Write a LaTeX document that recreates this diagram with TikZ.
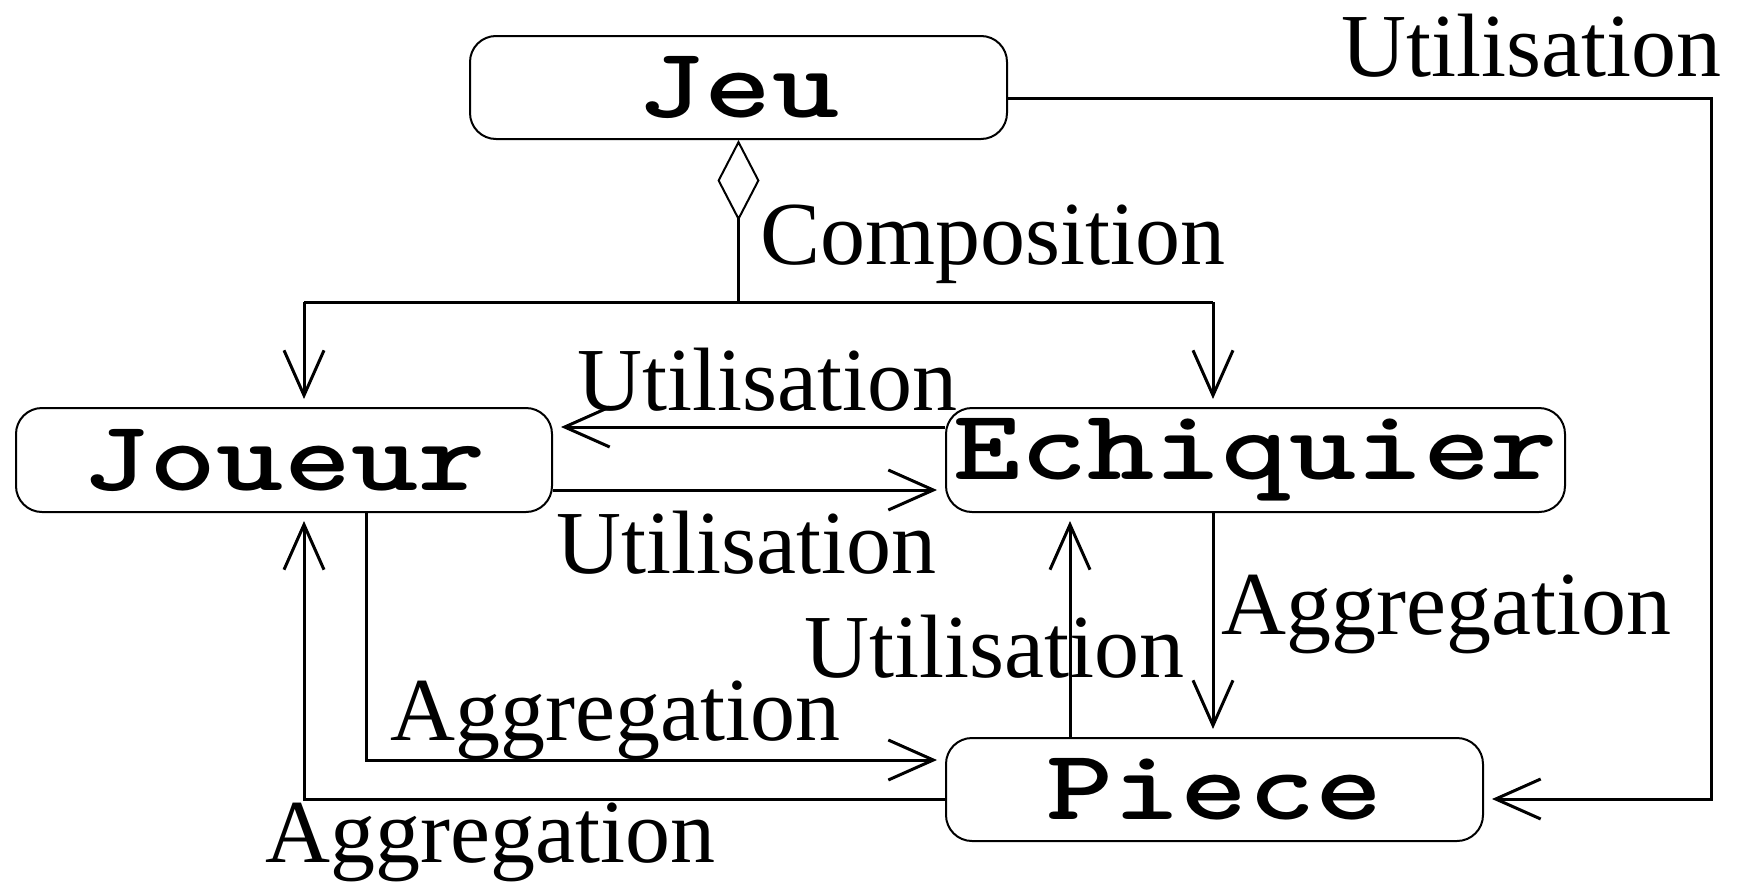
\documentclass[tikz,border=0pt]{standalone}
\usepackage{fontspec}
\usepackage{graphicx}
\setmainfont{Liberation Serif}
\usetikzlibrary{arrows.meta}
\newcommand{\clsname}[1]{\scalebox{1.28}[1]{#1}}
\tikzset{
  cls/.style={draw, line width=2pt, rounded corners=26pt, inner sep=0pt,
    font=\ttfamily\bfseries\fontsize{100}{100}\selectfont\addfontfeatures{FakeBold=6}},
  conn/.style={line width=3pt},
  arr/.style={conn, -{Straight Barb[length=45pt,width=40pt]}, shorten >=8pt},
  lbl/.style={anchor=base west, inner sep=0pt, font=\fontsize{90}{100}\selectfont},
}
\begin{document}
\begin{tikzpicture}[x=1pt,y=-1pt]
\useasboundingbox (0,0) rectangle (1745,881);
\node[cls, minimum width=537pt, minimum height=103pt] (jeu) at (738.5,87.5) {\clsname{Jeu}};
\node[cls, minimum width=536pt, minimum height=104pt] (joueur) at (284,460) {\clsname{Joueur}};
\node[cls, minimum width=619pt, minimum height=104pt] (echiquier) at (1255.5,460) {\clsname{Echiquier}};
\node[cls, minimum width=537pt, minimum height=103pt] (piece) at (1214.5,789.5) {\clsname{Piece}};

\coordinate (c1) at (1711,98);
\coordinate (p1) at (1711,799);
\coordinate (ja) at (366,760);
\coordinate (pa) at (304,799);
\coordinate (pu) at (1070,0);
\coordinate (ea) at (1213,0);
\coordinate (u1) at (0,427);
\coordinate (u2) at (0,490);
\coordinate (cm) at (738.5,302);
\coordinate (cl) at (304,302);
\coordinate (cr) at (1213,302);

% composition
\draw[conn, {Diamond[open,length=81pt,width=42pt,line width=2pt]}-] (jeu.south) -- (cm);
\draw[conn] (cl) -- (cr);
\draw[arr] (cl) -- (cl |- joueur.north);
\draw[arr] (cr) -- (cr |- echiquier.north);
\node[lbl] (lcomp) at (760,264) {Composition};

% Jeu -> Piece
\draw[arr] (jeu.east |- c1) -- (c1) -- (p1) -- (p1 -| piece.east);
\node[lbl] (lu0) at (1341,76) {Utilisation};

% Echiquier -> Joueur
\draw[arr] (u1 -| echiquier.west) -- (u1 -| joueur.east);
\node[lbl] (lu1) at (577,410) {Utilisation};

% Joueur -> Echiquier
\draw[arr] (u2 -| joueur.east) -- (u2 -| echiquier.west);
\node[lbl] (lu2) at (556,573) {Utilisation};

% Joueur -> Piece
\draw[arr] (ja |- joueur.south) -- (ja) -- (ja -| piece.west);
\node[lbl] (la1) at (390,740) {Aggregation};

% Piece -> Joueur
\draw[arr] (pa -| piece.west) -- (pa) -- (pa |- joueur.south);
\node[lbl] (la2) at (265,862) {Aggregation};

% Piece -> Echiquier
\draw[arr] (pu |- piece.north) -- (pu |- echiquier.south);
\node[lbl] (lu3) at (804,677) {Utilisation};

% Echiquier -> Piece
\draw[arr] (ea |- echiquier.south) -- (ea |- piece.north);
\node[lbl] (la3) at (1221,634) {Aggregation};
\end{tikzpicture}
\end{document}
